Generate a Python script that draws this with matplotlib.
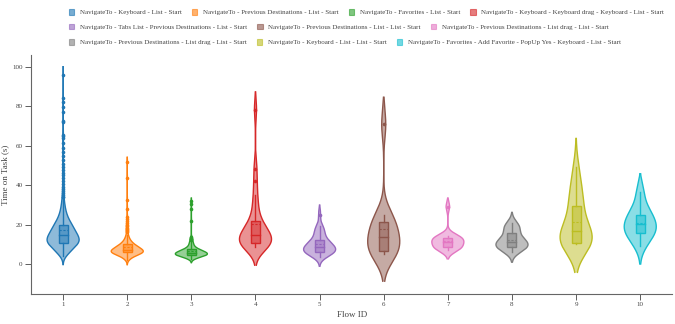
import numpy as np
import matplotlib
matplotlib.use("Agg")
import matplotlib.pyplot as plt
from matplotlib.patches import Patch, Rectangle

plt.rcParams['font.family'] = ['Liberation Serif', 'DejaVu Serif']

# flow ids, legend names and colours
flow_ids = [1, 2, 3, 4, 5, 6, 7, 8, 9, 10]
flow_names = [
    "NavigateTo - Keyboard - List - Start",
    "NavigateTo - Previous Destinations - List - Start",
    "NavigateTo - Favorites - List - Start",
    "NavigateTo - Keyboard - Keyboard drag - Keyboard - List - Start",
    "NavigateTo - Tabs List - Previous Destinations - List - Start",
    "NavigateTo - Previous Destinations - List - List - Start",
    "NavigateTo - Previous Destinations - List drag - List - Start",
    "NavigateTo - Previous Destinations - List drag - List - Start",
    "NavigateTo - Keyboard - List - List - Start",
    "NavigateTo - Favorites - Add Favorite - PopUp Yes - Keyboard - List - Start",
]
colors = ['#1f77b4', '#ff7f0e', '#2ca02c', '#d62728', '#9467bd',
          '#8c564b', '#e377c2', '#7f7f7f', '#bcbd22', '#17becf']

# time on task (s) -- big flows given as value / count pairs
t1_values = [4, 5, 6, 7, 8, 9, 10, 11, 12, 13, 14, 15, 16, 17, 18, 19, 20,
             21, 22, 23, 24, 25, 26, 27, 28, 29, 30, 31, 32, 33, 34, 35,
             36, 37, 38, 39, 40.5, 42, 43.5, 45, 46.5, 48, 49.5, 51, 53, 55,
             57, 59, 61.5, 64, 65, 65.5, 72, 72.5, 77, 79.5, 82, 84.5, 96]
t1_counts = [5, 9, 12, 15, 18, 22, 27, 31, 33, 30, 28, 26, 24, 22, 20, 18, 16,
             14, 12, 10, 8, 7, 6, 5, 4, 4, 3, 3, 2, 2, 2, 1,
             1, 1, 1, 1, 1, 1, 1, 1, 1, 1, 1, 1, 1, 1,
             1, 1, 1, 1, 1, 1, 1, 1, 1, 1, 1, 1, 1]

t2_values = [2, 3, 4, 5, 6, 7, 8, 9, 10, 11, 12, 13, 14, 15,
             16.5, 17, 17.5, 18, 18.5, 19.5, 20, 21, 22, 23, 24, 28, 32.7, 43.7, 52]
t2_counts = [3, 6, 12, 22, 32, 30, 24, 18, 13, 9, 6, 4, 3, 2,
             1, 1, 1, 1, 1, 1, 1, 1, 1, 1, 1, 1, 1, 1, 1]

t3_values = [2.5, 3.5, 4.5, 5.5, 6.5, 7.5, 8.5, 9.5, 10.5, 11,
             11.8, 12, 12.3, 12.6, 13, 13.3, 13.7, 21.7, 28, 30.6, 31.8]
t3_counts = [6, 18, 38, 40, 30, 18, 10, 6, 4, 3,
             1, 1, 1, 1, 1, 1, 1, 1, 1, 1, 1]

t4 = [8.8, 9.2, 9.6, 9.9, 10.1, 10.3, 10.5, 10.8, 11.6, 12.5, 13.4, 14.3, 14.8,
      15.2, 16.0, 17.0, 18.3, 19.5, 21.2, 22.2, 26.5, 30.5, 35.0, 42.0, 48.5, 78.0]
t5 = [3.7, 4.6, 5.2, 5.5, 5.8, 6.0, 6.2, 6.3, 6.7, 7.1, 7.5, 7.9, 8.2, 8.5, 8.8,
      9.2, 9.6, 10.1, 10.6, 11.2, 11.8, 12.2, 13.5, 14.8, 16.0, 17.2, 18.3, 19.2, 25.2]
t6 = [5.1, 5.8, 6.2, 6.6, 9.0, 11.5, 13.9, 16.0, 18.5, 21.2, 23.0, 24.9, 70.9]
t7 = [7.1, 7.6, 7.9, 8.2, 8.6, 9.4, 10.4, 11.0, 11.6, 12.2, 12.8, 13.3, 13.6,
      13.9, 14.2, 29.1]
t8 = [6.3, 7.2, 7.8, 8.2, 8.6, 8.9, 9.5, 10.1, 10.7, 11.1, 11.5, 12.0, 12.8,
      13.8, 15.5, 17.2, 18.0, 18.8, 19.8, 21.0]
t9 = [10.2, 10.3, 10.4, 10.4, 10.5, 10.6, 11.5, 13.0, 15.0, 16.4, 17.4, 19.0,
      22.0, 26.0, 29.0, 31.8, 35.0, 38.0, 43.0, 49.4]
t10 = [9.3, 14.0, 15.5, 17.1, 19.6, 20.8, 23.0, 25.9, 28.8, 36.7]

samples = [np.repeat(t1_values, t1_counts), np.repeat(t2_values, t2_counts),
           np.repeat(t3_values, t3_counts), np.array(t4), np.array(t5),
           np.array(t6), np.array(t7), np.array(t8), np.array(t9), np.array(t10)]

fig = plt.figure(figsize=(6.75, 3.24), dpi=100)
ax = fig.add_axes([0.046, 0.0926, 0.95, 0.7384])

half_w = 0.25
box_w = 0.07
for x, s, c in zip(flow_ids, samples, colors):
    s = np.sort(s.astype(float))
    q1, med, q3 = np.percentile(s, [25, 50, 75])
    iqr = q3 - q1
    bw = 1.059 * min(s.std(ddof=1), iqr / 1.349) * len(s) ** -0.2
    grid = np.linspace(s.min() - 2 * bw, s.max() + 2 * bw, 400)
    dens = np.exp(-0.5 * ((grid[:, None] - s[None, :]) / bw) ** 2).sum(axis=1)
    w = dens / dens.max() * half_w
    ax.fill_betweenx(grid, x - w, x + w, facecolor=c, alpha=0.5, lw=0)
    ax.plot(x - w, grid, color=c, lw=1)
    ax.plot(x + w, grid, color=c, lw=1)

    lo = s[s >= q1 - 1.5 * iqr].min()
    hi = s[s <= q3 + 1.5 * iqr].max()
    ax.plot([x, x], [lo, q1], color=c, lw=1)
    ax.plot([x, x], [q3, hi], color=c, lw=1)
    ax.add_patch(Rectangle((x - box_w, q1), 2 * box_w, q3 - q1,
                           facecolor=c, alpha=0.5, lw=0))
    ax.add_patch(Rectangle((x - box_w, q1), 2 * box_w, q3 - q1,
                           facecolor='none', edgecolor=c, lw=1))
    ax.plot([x - box_w, x + box_w], [med, med], color=c, lw=1)
    ax.plot([x - box_w, x + box_w], [s.mean(), s.mean()], color=c, lw=0.8,
            ls=(0, (2, 1.5)))
    out = s[(s < lo) | (s > hi)]
    ax.plot(np.full(len(out), x), out, 'o', color=c, ms=2.6, mew=0)

ax.set_xlim(0.5, 10.5)
ax.set_ylim(-15.1, 106.2)
ax.set_xticks(flow_ids)
ax.set_yticks([0, 20, 40, 60, 80, 100])
ax.tick_params(labelsize=5, colors='#444444', length=4, width=0.6, pad=2)
for side in ['top', 'right']:
    ax.spines[side].set_visible(False)
for side in ['left', 'bottom']:
    ax.spines[side].set_color('#666666')
    ax.spines[side].set_linewidth(0.8)
ax.set_xlabel('Flow ID', fontsize=6.5, color='#444444', labelpad=3)
ax.set_ylabel('Time on Task (s)', fontsize=6.5, color='#444444')
ax.yaxis.set_label_coords(-0.034, 0.5)

# legend, three rows like the original
rows = [[0, 1, 2, 3], [4, 5, 6], [7, 8, 9]]
row_y = [0.962, 0.917, 0.869]
for r, y in zip(rows, row_y):
    handles = [Patch(facecolor=colors[i], edgecolor=colors[i], alpha=0.6, lw=0.8)
               for i in r]
    leg = fig.legend(handles, [flow_names[i] for i in r], loc='center left',
                     bbox_to_anchor=(0.102, y), ncol=len(r), frameon=False,
                     fontsize=5, handlelength=0.8, handleheight=0.8,
                     handletextpad=0.8, columnspacing=1.45, borderpad=0,
                     borderaxespad=0)
    for t in leg.get_texts():
        t.set_color('#444444')

fig.savefig('out.png', dpi=100)
